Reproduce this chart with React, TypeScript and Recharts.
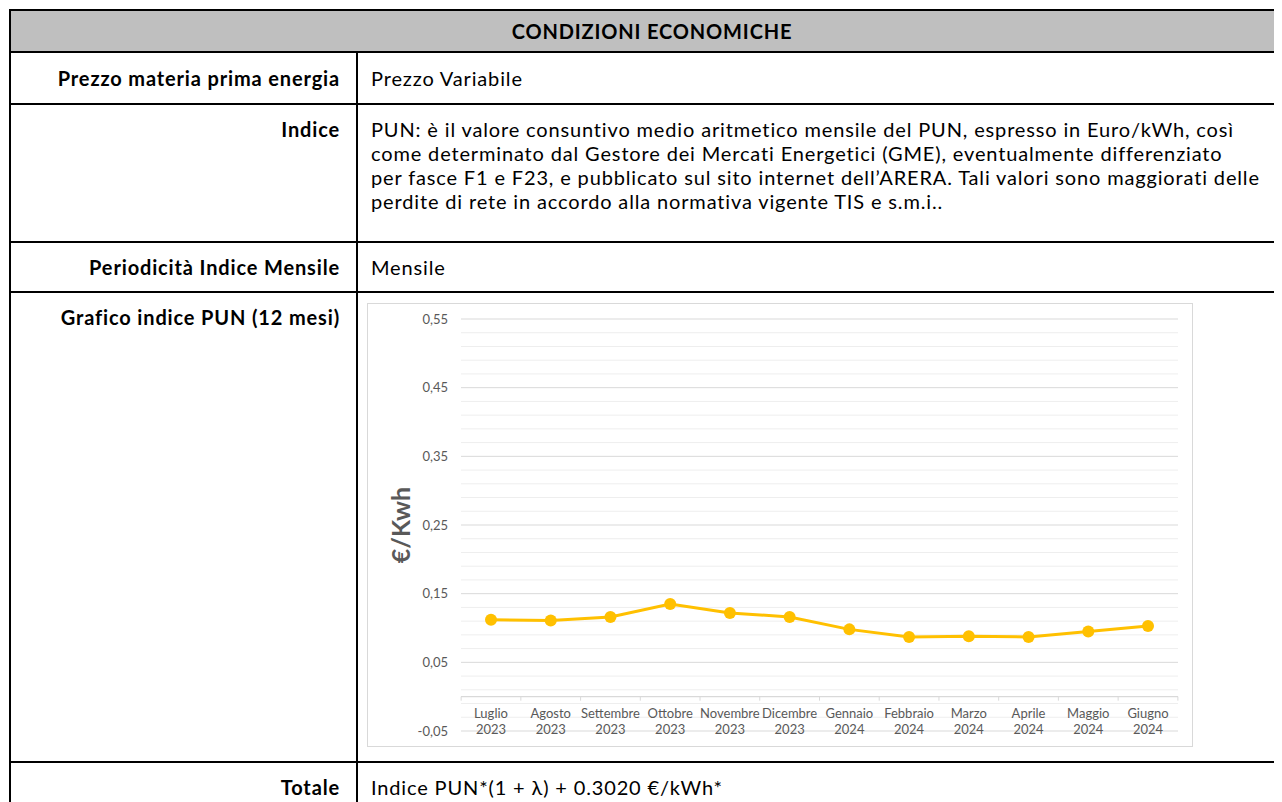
import { LineChart, Line, XAxis, YAxis, CartesianGrid, ReferenceLine } from 'recharts'

// PUN monthly values (€/kWh)
const months = ['Luglio', 'Agosto', 'Settembre', 'Ottobre', 'Novembre', 'Dicembre', 'Gennaio', 'Febbraio', 'Marzo', 'Aprile', 'Maggio', 'Giugno']
const years = ['2023', '2023', '2023', '2023', '2023', '2023', '2024', '2024', '2024', '2024', '2024', '2024']
const pun = [0.112, 0.111, 0.116, 0.135, 0.122, 0.116, 0.098, 0.087, 0.088, 0.087, 0.095, 0.103]

const majorTicks = [-0.05, 0.05, 0.15, 0.25, 0.35, 0.45, 0.55]
const minorTicks = [-0.03, -0.01, 0.01, 0.03, 0.07, 0.09, 0.11, 0.13, 0.17, 0.19, 0.21, 0.23, 0.27, 0.29, 0.31, 0.33, 0.37, 0.39, 0.41, 0.43, 0.47, 0.49, 0.51, 0.53]

const indiceLines = [
  'PUN: è il valore consuntivo medio aritmetico mensile del PUN, espresso in Euro/kWh, così',
  'come determinato dal Gestore dei Mercati Energetici (GME), eventualmente differenziato',
  'per fasce F1 e F23, e pubblicato sul sito internet dell’ARERA. Tali valori sono maggiorati delle',
  'perdite di rete in accordo alla normativa vigente TIS e s.m.i..',
]

const data = months.map((m, i) => ({ cat: `${m} ${years[i]}`, month: m, year: years[i], value: pun[i] }))

const Y_MIN = -0.05
const Y_MAX = 0.55
const PLOT_W = 717
const PLOT_H = 412
const GRID = '#d9d9d9'
const TXT = '#595959'
const FONT = 'Lato, sans-serif'

const fmt = (v: number) => v.toFixed(2).replace('.', ',')

function MonthTick({ x, y, index }: any) {
  const step = PLOT_W / months.length
  const zeroY = y - (PLOT_H * (0 - Y_MIN)) / (Y_MAX - Y_MIN)
  const d = data[index]
  return (
    <g>
      <line x1={x - step / 2} x2={x - step / 2} y1={zeroY} y2={zeroY + 4} stroke={GRID} />
      {index === months.length - 1 && (
        <line x1={x + step / 2} x2={x + step / 2} y1={zeroY} y2={zeroY + 4} stroke={GRID} />
      )}
      <text x={x} y={y} textAnchor="middle" fill={TXT} fontSize={13} fontFamily={FONT}>
        <tspan x={x} dy={-13}>{d.month}</tspan>
        <tspan x={x} dy={16}>{d.year}</tspan>
      </text>
    </g>
  )
}

function PunChart() {
  return (
    <LineChart width={824} height={442} data={data} margin={{ top: 15, right: 14, bottom: 14, left: 0 }}>
      {minorTicks.map(v => (
        <ReferenceLine key={v} y={v} stroke="#eeeeee" strokeWidth={1} />
      ))}
      <CartesianGrid vertical={false} stroke={GRID} />
      <ReferenceLine y={0} stroke={GRID} strokeWidth={1.2} />
      <XAxis dataKey="cat" interval={0} height={1} axisLine={false} tickLine={false} tickSize={0} tickMargin={0}
        padding={{ left: 30, right: 30 }} tick={<MonthTick />} />
      <YAxis domain={[Y_MIN, Y_MAX]} ticks={majorTicks} interval={0} width={93} tickFormatter={fmt}
        axisLine={false} tickLine={false} tickSize={0} tickMargin={13}
        tick={{ fill: TXT, fontSize: 13, fontFamily: FONT }}
        label={{ value: '€/Kwh', angle: -90, position: 'center', dx: -13, fill: TXT, fontSize: 25, fontWeight: 700, fontFamily: FONT }} />
      <Line type="linear" dataKey="value" stroke="#FFC000" strokeWidth={3}
        dot={{ r: 6, fill: '#FFC000', stroke: '#FFC000', strokeWidth: 0 }} activeDot={false} isAnimationActive={false} />
    </LineChart>
  )
}

const hLine = (top: number) => (
  <div key={top} style={{ position: 'absolute', left: 9, top, width: 1300, height: 2, background: '#000' }} />
)

const labelCell = (top: number, height: number, text: string, center: boolean) => (
  <div style={{
    position: 'absolute', left: 11, top, width: 345, height, boxSizing: 'border-box', paddingRight: 16,
    display: 'flex', justifyContent: 'flex-end', alignItems: center ? 'center' : 'flex-start',
    paddingTop: center ? 0 : 12, fontWeight: 700, lineHeight: '24px', whiteSpace: 'nowrap',
  }}>{text}</div>
)

const valueCell = (top: number, height: number, lines: string[], center: boolean) => (
  <div style={{
    position: 'absolute', left: 358, top, width: 930, height, boxSizing: 'border-box', paddingLeft: 13,
    display: 'flex', flexDirection: 'column', justifyContent: center ? 'center' : 'flex-start',
    paddingTop: center ? 0 : 12, lineHeight: '24px', whiteSpace: 'nowrap',
  }}>{lines.map(l => <div key={l}>{l}</div>)}</div>
)

export default function App() {
  return (
    <div style={{ position: 'relative', width: 1274, height: 794, overflow: 'hidden', fontFamily: FONT, fontSize: 20, letterSpacing: 0.85, color: '#000' }}>
      <div style={{ position: 'absolute', left: -8, top: -8, width: 1282, height: 802 }}>
        <div style={{ position: 'absolute', left: 11, top: 11, width: 1290, height: 40, background: '#bfbfbf' }} />
        {[9, 51, 103, 241, 291, 761].map(hLine)}
        <div style={{ position: 'absolute', left: 9, top: 9, width: 2, height: 800, background: '#000' }} />
        <div style={{ position: 'absolute', left: 356, top: 53, width: 2, height: 760, background: '#000' }} />
        <div style={{ position: 'absolute', left: 11, top: 11, width: 1282, height: 40, display: 'flex', alignItems: 'center', justifyContent: 'center', fontWeight: 700 }}>
          CONDIZIONI ECONOMICHE
        </div>
        {labelCell(53, 50, 'Prezzo materia prima energia', true)}
        {valueCell(53, 50, ['Prezzo Variabile'], true)}
        {labelCell(105, 136, 'Indice', false)}
        {valueCell(105, 136, indiceLines, false)}
        {labelCell(243, 48, 'Periodicità Indice Mensile', true)}
        {valueCell(243, 48, ['Mensile'], true)}
        {labelCell(293, 468, 'Grafico indice PUN (12 mesi)', false)}
        {labelCell(763, 48, 'Totale', false)}
        {valueCell(763, 48, ['Indice PUN*(1 + λ) + 0.3020 €/kWh*'], false)}
        <div style={{ position: 'absolute', left: 367, top: 303, width: 826, height: 444, boxSizing: 'border-box', border: '1px solid #d9d9d9', background: '#fff', letterSpacing: 0 }}>
          <PunChart />
        </div>
      </div>
    </div>
  )
}
